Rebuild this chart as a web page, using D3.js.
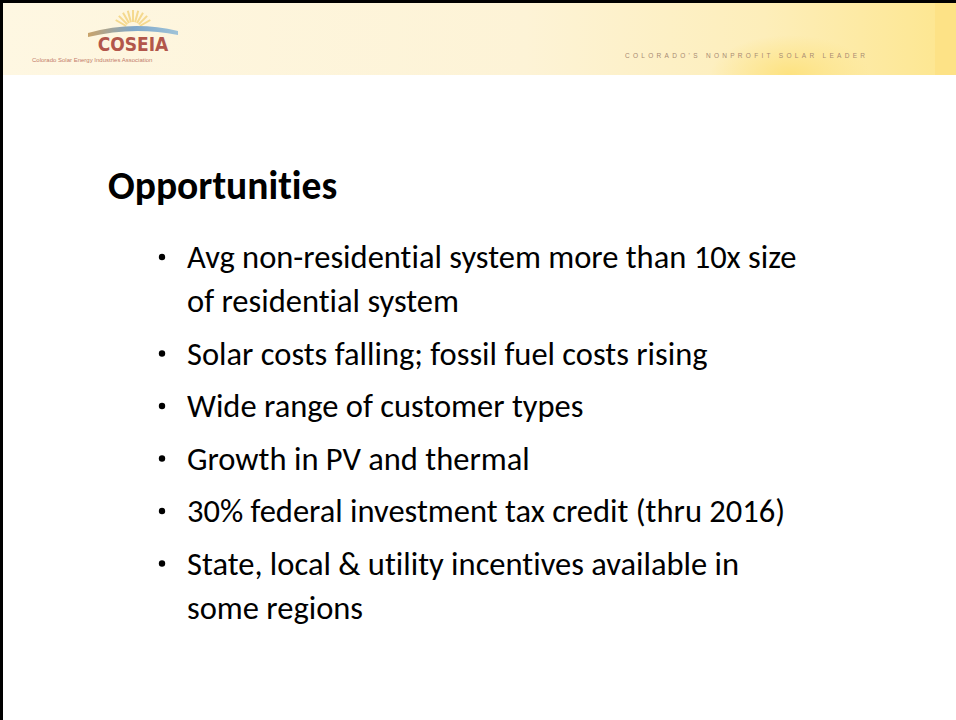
<!DOCTYPE html>
<html>
<head>
<meta charset="utf-8">
<script src="https://cdn.jsdelivr.net/npm/d3@7"></script>
<style>
  html, body { margin: 0; padding: 0; background: #fff; }
  svg { display: block; }
  text { font-variant-ligatures: none; }
</style>
</head>
<body>
<div id="slide"></div>
<script>
// Slide content
var titleText = "Opportunities";
var logoText = "COSEIA";
var logoSubtitle = "Colorado Solar Energy Industries Association";
var tagline = "COLORADO'S NONPROFIT SOLAR LEADER";

// one entry per bullet, each is the list of its wrapped lines
var bullets = [
  ["Avg non-residential system more than 10x size", "of residential system"],
  ["Solar costs falling; fossil fuel costs rising"],
  ["Wide range of customer types"],
  ["Growth in PV and thermal"],
  ["30% federal investment tax credit (thru 2016)"],
  ["State, local & utility incentives available in", "some regions"]
];

var width = 956, height = 720, headH = 75;
var bodyFont = "Carlito, Lato, 'Open Sans', sans-serif";

var svg = d3.select("#slide").append("svg")
  .attr("width", width)
  .attr("height", height);

var defs = svg.append("defs");

// header band gradient: cream on the left, warm yellow on the right
var hg = defs.append("linearGradient").attr("id", "headGrad")
  .attr("x1", "0%").attr("x2", "100%").attr("y1", "0%").attr("y2", "0%");
hg.append("stop").attr("offset", "0%").attr("stop-color", "#fef7e2");
hg.append("stop").attr("offset", "55%").attr("stop-color", "#fdf3d6");
hg.append("stop").attr("offset", "80%").attr("stop-color", "#fdeeba");
hg.append("stop").attr("offset", "100%").attr("stop-color", "#fde68e");

var glow = defs.append("radialGradient").attr("id", "sunGlow");
glow.append("stop").attr("offset", "0%").attr("stop-color", "#fde17a").attr("stop-opacity", 0.9);
glow.append("stop").attr("offset", "100%").attr("stop-color", "#fde17a").attr("stop-opacity", 0);

var arc = defs.append("linearGradient").attr("id", "arcGrad")
  .attr("x1", "0%").attr("x2", "100%");
arc.append("stop").attr("offset", "0%").attr("stop-color", "#c9a36a");
arc.append("stop").attr("offset", "50%").attr("stop-color", "#7fa7c9");
arc.append("stop").attr("offset", "100%").attr("stop-color", "#9fc3d8");

defs.append("clipPath").attr("id", "headClip")
  .append("rect").attr("width", width).attr("height", headH);

// header
var head = svg.append("g").attr("class", "header").attr("clip-path", "url(#headClip)");
head.append("rect")
  .attr("x", 0).attr("y", 0).attr("width", width).attr("height", headH)
  .attr("fill", "url(#headGrad)");
head.append("ellipse")
  .attr("cx", 790).attr("cy", 75).attr("rx", 80).attr("ry", 40)
  .attr("fill", "url(#sunGlow)");
head.append("rect")
  .attr("x", 935).attr("y", 0).attr("width", 21).attr("height", headH)
  .attr("fill", "#fde286");

// logo: small sun with rays and a swoosh, then the name
var logo = head.append("g").attr("transform", "translate(133,0)");
var rays = d3.range(-60, 61, 15);
logo.selectAll("line.ray").data(rays).enter().append("line")
  .attr("class", "ray")
  .attr("x1", function(a) { return 8 * Math.sin(a * Math.PI / 180); })
  .attr("y1", function(a) { return 30 - 8 * Math.cos(a * Math.PI / 180); })
  .attr("x2", function(a) { return 20 * Math.sin(a * Math.PI / 180); })
  .attr("y2", function(a) { return 30 - 20 * Math.cos(a * Math.PI / 180); })
  .attr("stroke", "#f3d27a").attr("stroke-width", 2).attr("opacity", 0.8);
logo.append("path")
  .attr("d", "M-45,33 Q0,20 45,31 L45,35 Q0,26 -45,37 Z")
  .attr("fill", "url(#arcGrad)");
logo.append("text")
  .attr("x", 0).attr("y", 51)
  .attr("text-anchor", "middle")
  .attr("font-family", "'DejaVu Sans Condensed', 'Liberation Sans Narrow', sans-serif")
  .attr("font-weight", "bold")
  .attr("font-size", 19)
  .attr("fill", "#b2574b")
  .text(logoText);
head.append("text")
  .attr("x", 32).attr("y", 62)
  .attr("font-family", "'Liberation Sans', sans-serif")
  .attr("font-size", 6)
  .attr("fill", "#c27c6a")
  .text(logoSubtitle);

head.append("text")
  .attr("x", 625).attr("y", 58)
  .attr("font-family", "'Liberation Sans', sans-serif")
  .attr("font-size", 6.5)
  .attr("letter-spacing", 3.3)
  .attr("fill", "#a88a72")
  .text(tagline);

// frame lines (top and left)
svg.append("line").attr("x1", 0).attr("x2", width).attr("y1", 1.5).attr("y2", 1.5)
  .attr("stroke", "#000").attr("stroke-width", 3);
svg.append("line").attr("x1", 1.5).attr("x2", 1.5).attr("y1", 0).attr("y2", height)
  .attr("stroke", "#000").attr("stroke-width", 3);

// title
svg.append("text")
  .attr("x", 108).attr("y", 199)
  .attr("font-family", bodyFont)
  .attr("font-weight", "bold")
  .attr("font-size", 39.5)
  .attr("fill", "#000")
  .text(titleText);

// flatten bullets into lines, tracking which paragraph they belong to
var lines = [];
bullets.forEach(function(b, bi) {
  b.forEach(function(txt, li) {
    lines.push({ text: txt, para: bi, first: li === 0 });
  });
});

// baseline of each line: paragraph gap is larger than the wrap gap
var paraGap = 52.5, lineGap = 44;
var y0 = 268;
var yPos = [];
lines.forEach(function(d, i) {
  if (i === 0) yPos.push(y0);
  else yPos.push(yPos[i - 1] + (d.first ? paraGap : lineGap));
});

var body = svg.append("g").attr("class", "body");
body.selectAll("text.line").data(lines).enter().append("text")
  .attr("class", "line")
  .attr("x", 187)
  .attr("y", function(d, i) { return yPos[i]; })
  .attr("font-family", bodyFont)
  .attr("font-size", 32.5)
  .attr("fill", "#000")
  .text(function(d) { return d.text; });

body.selectAll("circle.dot").data(lines.filter(function(d) { return d.first; })).enter()
  .append("circle")
  .attr("class", "dot")
  .attr("cx", 162)
  .attr("cy", function(d) { return yPos[lines.indexOf(d)] - 11; })
  .attr("r", 3.2)
  .attr("fill", "#000");
</script>
</body>
</html>
